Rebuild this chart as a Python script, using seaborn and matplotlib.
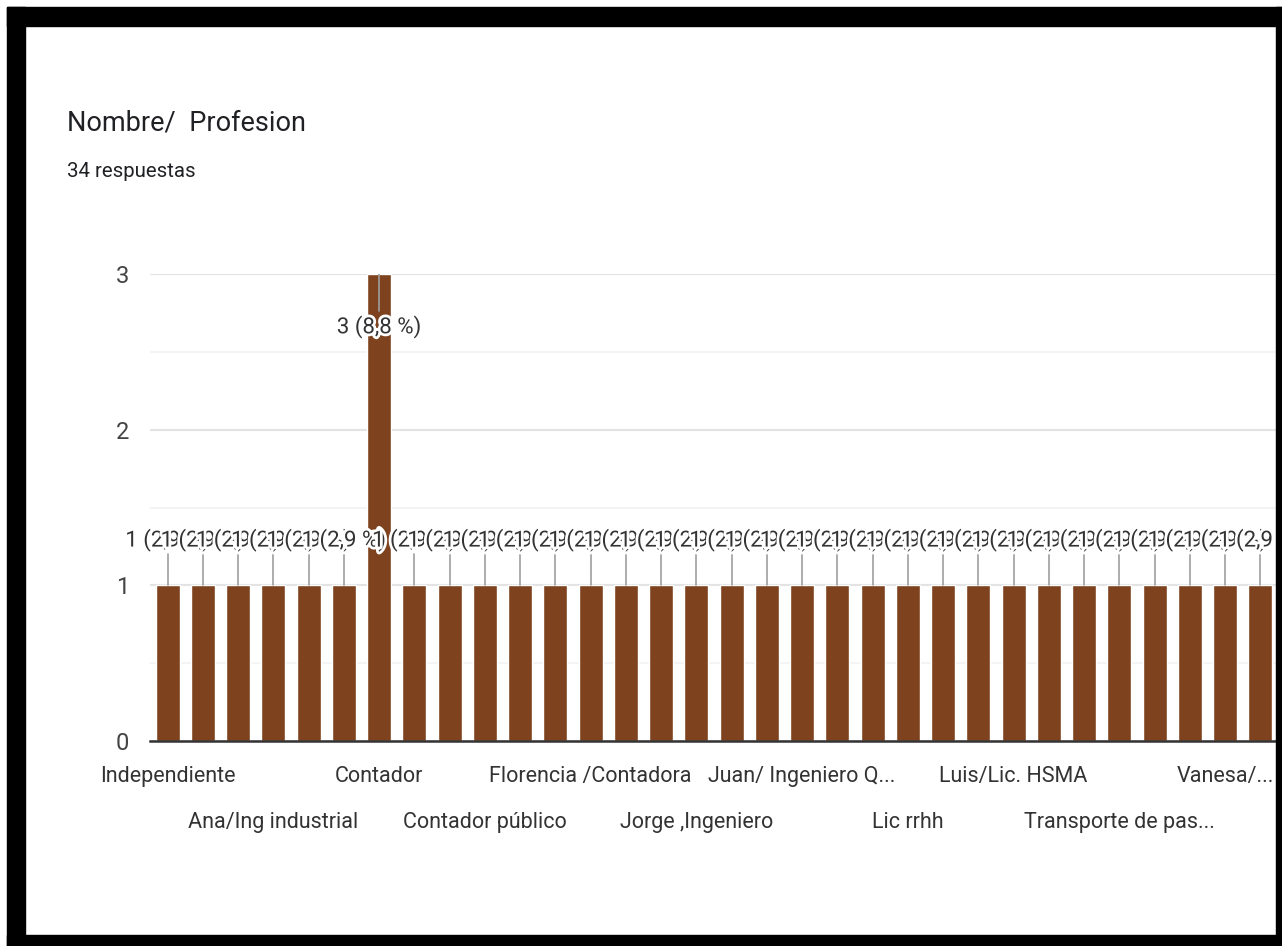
import matplotlib
matplotlib.use("Agg")
import matplotlib.pyplot as plt
import matplotlib.patheffects as pe
from matplotlib.patches import Rectangle
from matplotlib.ticker import MultipleLocator
import seaborn as sns
import pandas as pd

# respuestas por profesion (32 categorias, 34 respuestas)
conteos = [1, 1, 1, 1, 1, 1, 3, 1, 1, 1, 1, 1, 1, 1, 1, 1,
           1, 1, 1, 1, 1, 1, 1, 1, 1, 1, 1, 1, 1, 1, 1, 1]
etiquetas_pos = [0, 3, 6, 9, 12, 15, 18, 21, 24, 27, 30]
etiquetas = ["Independiente", "Ana/Ing industrial", "Contador", "Contador público",
             "Florencia /Contadora", "Jorge ,Ingeniero", "Juan/ Ingeniero Q...",
             "Lic rrhh", "Luis/Lic. HSMA", "Transporte de pas...", "Vanesa/..."]
total = 34

sns.set_style("white")
plt.rcParams['font.family'] = ['Roboto', 'DejaVu Sans']

W, H = 1282, 946
fig = plt.figure(figsize=(W / 100, H / 100), dpi=100)
ax = fig.add_axes([150 / W, 1 - 741 / H, 1128 / W, 467 / H])

df = pd.DataFrame({"idx": list(range(len(conteos))), "n": conteos})
sns.barplot(data=df, x="idx", y="n", color="#7E421F", saturation=1, width=0.68, ax=ax, zorder=2)

ax.set_xlim(-0.5, len(conteos) - 0.5)
ax.set_ylim(0, 3)
ax.yaxis.set_major_locator(MultipleLocator(1))
ax.yaxis.set_minor_locator(MultipleLocator(0.5))
ax.grid(axis="y", which="major", color="#e3e3e3", lw=1.5, zorder=0)
ax.grid(axis="y", which="minor", color="#f2f2f2", lw=1.2, zorder=0)
ax.set_axisbelow(True)
for s in ["left", "right", "top"]:
    ax.spines[s].set_visible(False)
ax.spines["bottom"].set_color("#333333")
ax.spines["bottom"].set_linewidth(1.8)
ax.set_xlabel("")
ax.set_ylabel("")
ax.tick_params(axis="y", length=0, pad=15, labelsize=17, labelcolor="#444444")
ax.tick_params(axis="y", which="minor", length=0)
ax.set_xticks(etiquetas_pos)
ax.set_xticklabels(etiquetas)
ax.tick_params(axis="x", length=0, labelsize=15.5, labelcolor="#333333")
for i, t in enumerate(ax.xaxis.get_major_ticks()):
    t.set_pad(18 if i % 2 == 0 else 51)

# etiquetas de valor con linea guia
halo = [pe.withStroke(linewidth=4, foreground="white")]
for i, n in enumerate(conteos):
    txt = f"{n} ({n / total * 100:.1f} %)".replace(".", ",")
    if n == 1:
        ax.plot([i, i], [1.0, 1.2], color="#9e9e9e", lw=1.2, zorder=3)
        ax.text(i, 1.29, txt, ha="center", va="center", fontsize=16, color="#333333",
                path_effects=halo, zorder=4, clip_on=False)
for i, n in enumerate(conteos):
    if n > 1:
        txt = f"{n} ({n / total * 100:.1f} %)".replace(".", ",")
        ax.plot([i, i], [n, n - 0.24], color="#9e9e9e", lw=1.2, zorder=3)
        ax.text(i, n - 0.34, txt, ha="center", va="center", fontsize=16, color="#333333",
                path_effects=halo, zorder=4)

fig.text(67 / W, 1 - 130 / H, "Nombre/  Profesion", fontsize=19.5, color="#202124", va="baseline")
fig.text(67 / W, 1 - 177 / H, "34 respuestas", fontsize=14.7, color="#202124", va="baseline")

# marco negro de la captura
for x0, y0, w, h in [(7, 7, 18, 939), (7, 7, 1275, 19), (1276, 7, 6, 939), (7, 935, 1275, 11)]:
    fig.patches.append(Rectangle((x0 / W, 1 - (y0 + h) / H), w / W, h / H,
                                 transform=fig.transFigure, color="black", zorder=20))

fig.savefig("out.png", dpi=100)
